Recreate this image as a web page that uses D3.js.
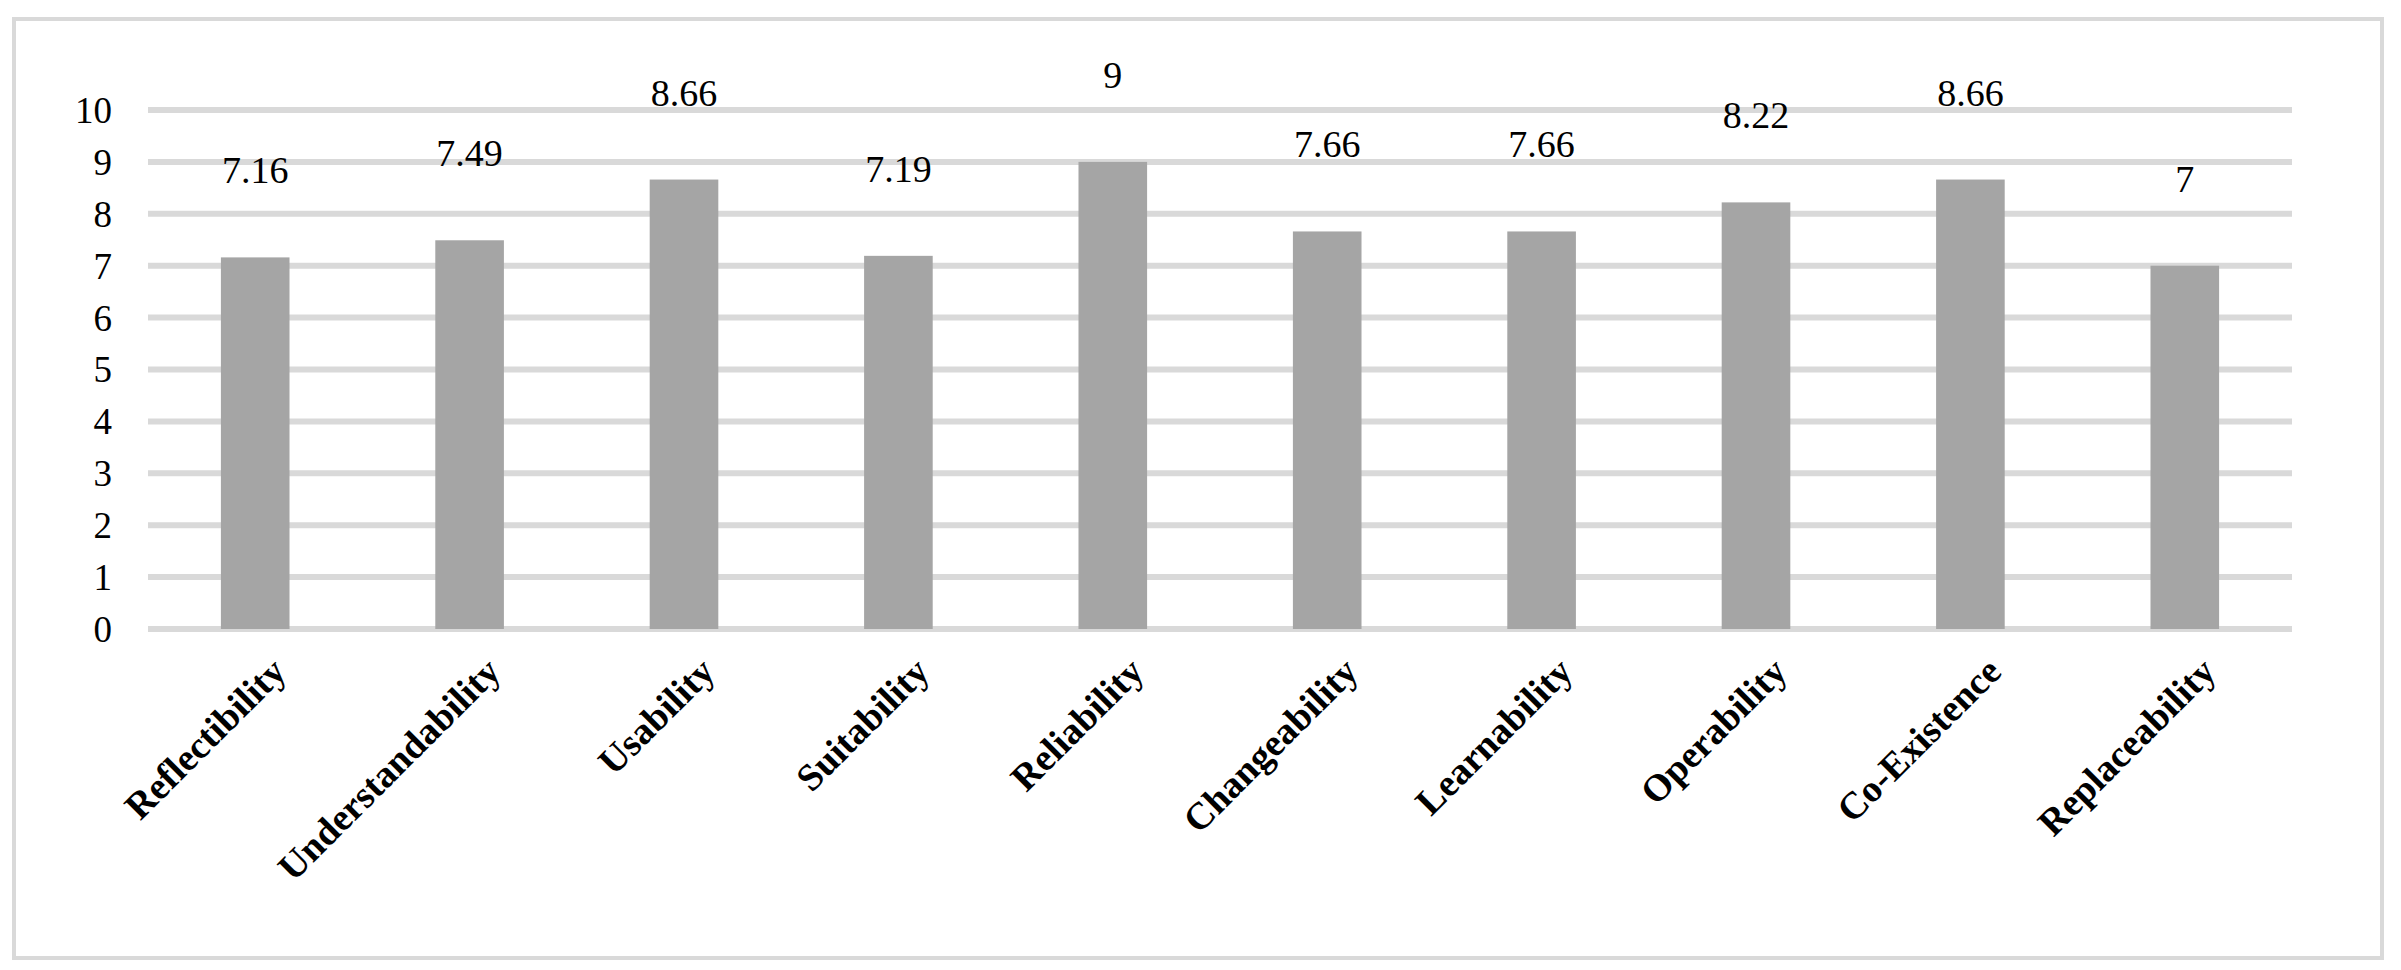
<!DOCTYPE html>
<html>
<head>
<meta charset="utf-8">
<script src="https://cdn.jsdelivr.net/npm/d3@7"></script>
<style>
  body { margin: 0; background: #fff; }
  text { font-family: "Liberation Serif", "Times New Roman", serif; }
</style>
</head>
<body>
<div id="chart"></div>
<script>
const categories = ["Reflectibility", "Understandability", "Usability", "Suitability", "Reliability",
  "Changeability", "Learnability", "Operability", "Co-Existence", "Replaceability"];
const values = [7.16, 7.49, 8.66, 7.19, 9, 7.66, 7.66, 8.22, 8.66, 7];
const valueLabels = ["7.16", "7.49", "8.66", "7.19", "9", "7.66", "7.66", "8.22", "8.66", "7"];
const yTicks = [0, 1, 2, 3, 4, 5, 6, 7, 8, 9, 10];

const width = 2401;
const height = 970;

const svg = d3.select('#chart')
    .append('svg')
    .attr('width', width)
    .attr('height', height);

// outer frame
svg.append('rect')
    .attr('x', 14)
    .attr('y', 19)
    .attr('width', 2368)
    .attr('height', 939)
    .attr('fill', '#fff')
    .attr('stroke', '#d9d9d9')
    .attr('stroke-width', 4);

const x = d3.scaleBand()
    .domain(categories)
    .range([148, 2292])
    .paddingInner(0.68)
    .paddingOuter(0.34);

const y = d3.scaleLinear()
    .domain([0, 10])
    .range([629, 110]);

// gridlines
svg.append('g')
  .selectAll('line')
  .data(yTicks)
  .enter()
  .append('line')
  .attr('x1', 148)
  .attr('x2', 2292)
  .attr('y1', d => y(d))
  .attr('y2', d => y(d))
  .attr('stroke', '#d9d9d9')
  .attr('stroke-width', 6);

// y tick labels
svg.append('g')
  .selectAll('text')
  .data(yTicks)
  .enter()
  .append('text')
  .text(d => d)
  .attr('x', 112)
  .attr('y', d => y(d))
  .attr('dy', '0.35em')
  .attr('text-anchor', 'end')
  .style('font-size', '37px');

// bars
svg.append('g')
  .selectAll('rect')
  .data(values)
  .enter()
  .append('rect')
  .attr('x', (d, i) => x(categories[i]))
  .attr('y', d => y(d))
  .attr('width', x.bandwidth())
  .attr('height', d => y(0) - y(d))
  .attr('fill', '#a5a5a5');

// value labels
svg.append('g')
  .selectAll('text')
  .data(values)
  .enter()
  .append('text')
  .text((d, i) => valueLabels[i])
  .attr('x', (d, i) => x(categories[i]) + x.bandwidth() / 2)
  .attr('y', d => y(d) - 74)
  .attr('text-anchor', 'middle')
  .style('font-size', '38px');

// category labels
svg.append('g')
  .selectAll('text')
  .data(categories)
  .enter()
  .append('text')
  .text(d => d)
  .attr('text-anchor', 'end')
  .attr('transform', d => `translate(${x(d) + x.bandwidth() / 2 + 14}, 655) rotate(-45)`)
  .attr('dy', '0.7em')
  .style('font-size', '38px')
  .style('font-weight', 'bold');
</script>
</body>
</html>
